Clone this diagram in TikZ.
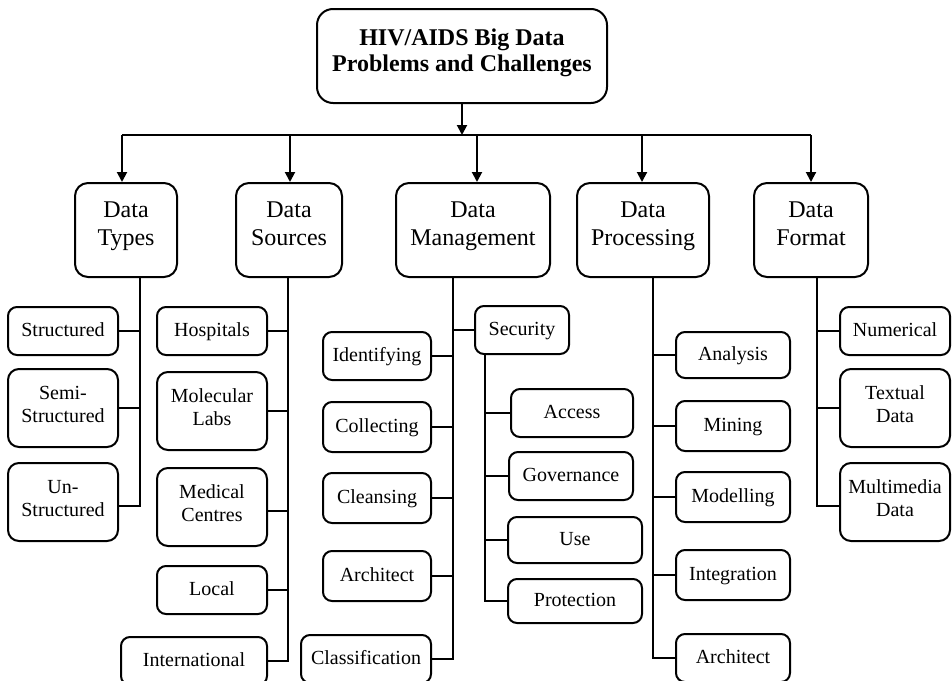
\documentclass[tikz,border=0pt]{standalone}
\usepackage{fontspec}
\setmainfont{Liberation Serif}
\usetikzlibrary{arrows.meta}
\begin{document}
\begin{tikzpicture}[x=1pt,y=-1pt,
  box/.style={draw, line width=2pt, align=center, inner sep=0pt},
  titlebox/.style={box, rounded corners=16pt, font=\bfseries\fontsize{24}{26}\selectfont, text depth=12pt},
  catbox/.style={box, rounded corners=13pt, font=\fontsize{24}{28}\selectfont, minimum height=94pt, text depth=13pt},
  leafbox/.style={box, rounded corners=9pt, font=\fontsize{20}{23}\selectfont, minimum height=48pt, text height=14pt, text depth=4pt},
  leaftwo/.style={box, rounded corners=11pt, font=\fontsize{20}{23}\selectfont, minimum height=78pt, text depth=8pt},
  wire/.style={line width=2pt},
  arrow/.style={wire, -{Triangle[length=10pt,width=10pt]}},
]
\useasboundingbox (0,0) rectangle (952,680);
\clip (0,0) rectangle (952,680);

% root
\node[titlebox, minimum width=290pt, minimum height=94pt] (root) at (462,56) {HIV/AIDS Big Data\\Problems and Challenges};

% categories
\node[catbox, minimum width=102pt] (types)   at (126,230) {Data\\Types};
\node[catbox, minimum width=106pt] (sources) at (289,230) {Data\\Sources};
\node[catbox, minimum width=154pt] (mgmt)    at (473,230) {Data\\Management};
\node[catbox, minimum width=132pt] (proc)    at (643,230) {Data\\Processing};
\node[catbox, minimum width=114pt] (format)  at (811,230) {Data\\Format};

% bus and arrows
\coordinate (a1) at (122,135);
\coordinate (a2) at (290,135);
\coordinate (a3) at (477,135);
\coordinate (a4) at (642,135);
\coordinate (a5) at (811,135);
\draw[wire] (a1) -- (a5);
\draw[arrow] (root.south) -- (root.south |- a1);
\draw[arrow] (a1) -- (a1 |- types.north);
\draw[arrow] (a2) -- (a2 |- sources.north);
\draw[arrow] (a3) -- (a3 |- mgmt.north);
\draw[arrow] (a4) -- (a4 |- proc.north);
\draw[arrow] (a5) -- (a5 |- format.north);

% trunk positions
\coordinate (tT) at (140,0);
\coordinate (tS) at (288,0);
\coordinate (tM) at (453,0);
\coordinate (tX) at (485,0);
\coordinate (tP) at (653,0);
\coordinate (tF) at (817,0);

% Data Types
\node[leafbox, minimum width=110pt] (st1) at (63,331) {Structured};
\node[leaftwo, minimum width=110pt] (st2) at (63,408) {Semi-\\Structured};
\node[leaftwo, minimum width=110pt] (st3) at (63,502) {Un-\\Structured};
\coordinate (st3c) at ([yshift=-4pt]st3.east);
\draw[wire] (tT |- types.south) -- (st3c -| tT) -- (st3c);
\draw[wire] (st1.east) -- (st1.east -| tT);
\draw[wire] (st2.east) -- (st2.east -| tT);

% Data Sources
\node[leafbox, minimum width=110pt] (so1) at (212,331) {Hospitals};
\node[leaftwo, minimum width=110pt] (so2) at (212,411) {Molecular\\Labs};
\node[leaftwo, minimum width=110pt] (so3) at (212,507) {Medical\\Centres};
\node[leafbox, minimum width=110pt] (so4) at (212,590) {Local};
\node[leafbox, minimum width=146pt] (so5) at (194,661) {International};
\draw[wire] (tS |- sources.south) -- (tS |- so5.east) -- (so5.east);
\coordinate (so3c) at ([yshift=-4pt]so3.east);
\draw[wire] (so3c) -- (so3c -| tS);
\foreach \n in {so1,so2,so4} \draw[wire] (\n.east) -- (\n.east -| tS);

% Data Management
\node[leafbox, minimum width=108pt] (m1) at (377,356) {Identifying};
\node[leafbox, minimum width=108pt, minimum height=50pt] (m2) at (377,427) {Collecting};
\node[leafbox, minimum width=108pt, minimum height=50pt] (m3) at (377,498) {Cleansing};
\node[leafbox, minimum width=108pt, minimum height=50pt] (m4) at (377,576) {Architect};
\node[leafbox, minimum width=130pt] (m5) at (366,659) {Classification};
\draw[wire] (tM |- mgmt.south) -- (tM |- m5.east) -- (m5.east);
\foreach \n in {m1,m2,m3,m4} \draw[wire] (\n.east) -- (\n.east -| tM);

% Security branch
\node[leafbox, minimum width=94pt] (sec) at (522,330) {Security};
\draw[wire] (sec.west) -- (sec.west -| tM);
\node[leafbox, minimum width=122pt] (s1) at (572,413) {Access};
\node[leafbox, minimum width=124pt] (s2) at (571,476) {Governance};
\node[leafbox, minimum width=134pt, minimum height=46pt] (s3) at (575,540) {Use};
\node[leafbox, minimum width=134pt, minimum height=44pt] (s4) at (575,601) {Protection};
\draw[wire] (tX |- sec.south) -- (tX |- s4.west) -- (s4.west);
\foreach \n in {s1,s2,s3} \draw[wire] (\n.west) -- (\n.west -| tX);

% Data Processing
\node[leafbox, minimum width=114pt, minimum height=46pt] (p1) at (733,355) {Analysis};
\node[leafbox, minimum width=114pt, minimum height=50pt] (p2) at (733,426) {Mining};
\node[leafbox, minimum width=114pt, minimum height=50pt] (p3) at (733,497) {Modelling};
\node[leafbox, minimum width=114pt, minimum height=50pt] (p4) at (733,575) {Integration};
\node[leafbox, minimum width=114pt] (p5) at (733,658) {Architect};
\draw[wire] (tP |- proc.south) -- (tP |- p5.west) -- (p5.west);
\foreach \n in {p1,p2,p3,p4} \draw[wire] (\n.west) -- (\n.west -| tP);

% Data Format
\node[leafbox, minimum width=110pt] (f1) at (895,331) {Numerical};
\node[leaftwo, minimum width=110pt] (f2) at (895,408) {Textual\\Data};
\node[leaftwo, minimum width=110pt] (f3) at (895,502) {Multimedia\\Data};
\coordinate (f3c) at ([yshift=-4pt]f3.west);
\draw[wire] (tF |- format.south) -- (f3c -| tF) -- (f3c);
\foreach \n in {f1,f2} \draw[wire] (\n.west) -- (\n.west -| tF);
\end{tikzpicture}
\end{document}
